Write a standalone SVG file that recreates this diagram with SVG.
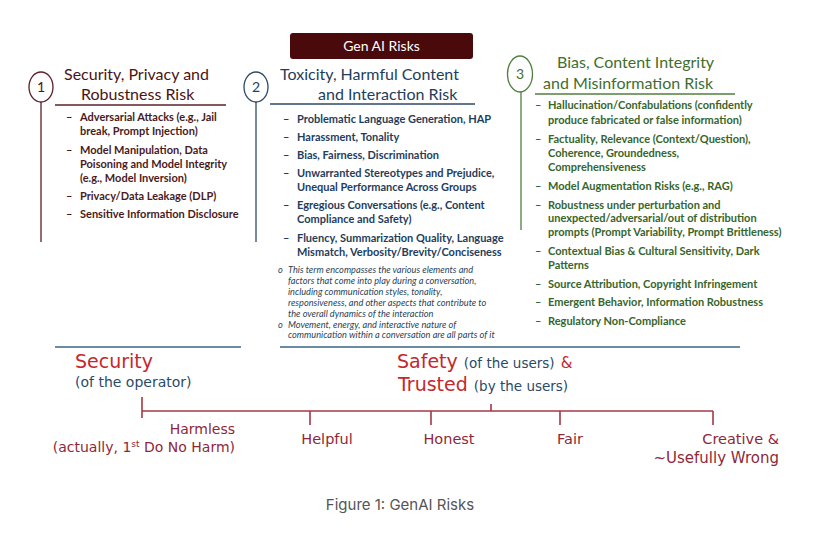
<svg xmlns="http://www.w3.org/2000/svg" width="830" height="542" viewBox="0 0 830 542">
<style>
.t{font-family:Lato,"Open Sans","Liberation Sans",sans-serif}
.h1{font-size:16px;fill:#4a1414}
.h2{font-size:16px;fill:#1f3d5c}
.h3{font-size:16px;fill:#3f6e30}
.b{font-size:11px;font-weight:700}
.c1{fill:#4a1a22}
.c2{fill:#1f3d5c}
.c3{fill:#37652b}
.n{font-size:9.2px;font-style:italic;fill:#2a3f58}
.cm{font-family:"DejaVu Sans","Liberation Sans",sans-serif}
.red{fill:#c4282d}
.mar{fill:#8e2838}
.blu{fill:#2a4a66}
.ln1{stroke:#5a2028;stroke-width:1.3;fill:none}
.ln2{stroke:#2e4a66;stroke-width:1.3;fill:none}
.ln3{stroke:#4f7f3f;stroke-width:1.3;fill:none}
.tl{stroke:#a23a48;stroke-width:1.6;fill:none}
.sep{stroke:#3a6484;stroke-width:1.3}
</style>
<rect width="830" height="542" fill="#ffffff"/>

<g id="title">
<rect x="290" y="33" width="183" height="26" rx="3" fill="#4a0a0c"/>
<text class="t" x="381.5" y="51" text-anchor="middle" font-size="14" fill="#ffffff">Gen AI Risks</text>
</g>

<g id="col1">
<ellipse class="ln1" cx="41" cy="87" rx="12" ry="15"/>
<text class="t" x="41" y="92" text-anchor="middle" font-size="14" fill="#4a1414">1</text>
<line class="ln1" x1="41" y1="102" x2="41" y2="242"/>
<text class="t h1" x="64" y="80">Security, Privacy and</text>
<text class="t h1" x="81" y="100">Robustness  Risk</text>
<line class="ln1" x1="55" y1="105" x2="226" y2="105"/>
<g class="t b c1">
<text x="66" y="121">–</text><text x="80" y="121">Adversarial Attacks (e.g., Jail</text>
<text x="80" y="135">break, Prompt Injection)</text>
<text x="66" y="154">–</text><text x="80" y="154">Model Manipulation, Data</text>
<text x="80" y="168">Poisoning and Model Integrity</text>
<text x="80" y="182">(e.g., Model Inversion)</text>
<text x="66" y="200">–</text><text x="80" y="200">Privacy/Data Leakage (DLP)</text>
<text x="66" y="218">–</text><text x="80" y="218">Sensitive Information Disclosure</text>
</g>
</g>

<g id="col2">
<ellipse class="ln2" cx="256" cy="87" rx="12" ry="15"/>
<text class="t" x="256" y="92" text-anchor="middle" font-size="14" fill="#1f3d5c">2</text>
<line class="ln2" x1="256" y1="102" x2="256" y2="242"/>
<text class="t h2" x="280" y="80">Toxicity, Harmful Content</text>
<text class="t h2" x="318" y="100">and Interaction Risk</text>
<line class="ln2" x1="270" y1="104" x2="475" y2="104"/>
<g class="t b c2">
<text x="283" y="123">–</text><text x="297" y="123">Problematic Language Generation, HAP</text>
<text x="283" y="141">–</text><text x="297" y="141">Harassment, Tonality</text>
<text x="283" y="159">–</text><text x="297" y="159">Bias, Fairness, Discrimination</text>
<text x="283" y="177">–</text><text x="297" y="177">Unwarranted Stereotypes and Prejudice,</text>
<text x="297" y="191">Unequal Performance Across Groups</text>
<text x="283" y="209">–</text><text x="297" y="209">Egregious Conversations (e.g., Content</text>
<text x="297" y="223">Compliance and Safety)</text>
<text x="283" y="242">–</text><text x="297" y="242">Fluency, Summarization Quality, Language</text>
<text x="297" y="256">Mismatch, Verbosity/Brevity/Conciseness</text>
</g>
<g class="t n">
<text x="278" y="273">o</text><text x="288" y="273">This term encompasses the various elements and</text>
<text x="288" y="284">factors that come into play during a conversation,</text>
<text x="288" y="295">including communication styles, tonality,</text>
<text x="288" y="306">responsiveness, and other aspects that contribute to</text>
<text x="288" y="317">the overall dynamics of the interaction</text>
<text x="278" y="328">o</text><text x="288" y="328">Movement, energy, and interactive nature of</text>
<text x="288" y="338">communication within a conversation are all parts of it</text>
</g>
</g>

<g id="col3">
<ellipse class="ln3" cx="520" cy="74" rx="12.5" ry="18"/>
<text class="t" x="520" y="79" text-anchor="middle" font-size="14" fill="#3f6e30">3</text>
<line class="ln3" x1="521" y1="92" x2="521" y2="230"/>
<text class="t h3" x="557" y="68">Bias, Content Integrity</text>
<text class="t h3" x="543" y="89">and Misinformation Risk</text>
<line class="ln3" x1="535" y1="94" x2="735" y2="94"/>
<g class="t b c3">
<text x="535" y="109">–</text><text x="548" y="109">Hallucination/Confabulations (confidently</text>
<text x="548" y="124">produce fabricated or false information)</text>
<text x="535" y="143">–</text><text x="548" y="143">Factuality, Relevance (Context/Question),</text>
<text x="548" y="157">Coherence, Groundedness,</text>
<text x="548" y="171">Comprehensiveness</text>
<text x="535" y="190">–</text><text x="548" y="190">Model Augmentation Risks (e.g., RAG)</text>
<text x="535" y="209">–</text><text x="548" y="209">Robustness under perturbation and</text>
<text x="548" y="222">unexpected/adversarial/out of distribution</text>
<text x="548" y="236">prompts (Prompt Variability, Prompt Brittleness)</text>
<text x="535" y="255">–</text><text x="548" y="255">Contextual Bias &amp; Cultural Sensitivity, Dark</text>
<text x="548" y="269">Patterns</text>
<text x="535" y="288">–</text><text x="548" y="288">Source Attribution, Copyright Infringement</text>
<text x="535" y="306">–</text><text x="548" y="306">Emergent Behavior, Information Robustness</text>
<text x="535" y="325">–</text><text x="548" y="325">Regulatory Non-Compliance</text>
</g>
</g>

<g id="separators">
<line class="sep" x1="55" y1="347" x2="241" y2="347"/>
<line class="sep" x1="280" y1="347" x2="740" y2="347"/>
</g>

<g id="security">
<text class="cm red" x="75" y="368" font-size="19">Security</text>
<text class="cm blu" x="75" y="387" font-size="14">(of the operator)</text>
</g>
<g id="safety">
<text class="cm red" x="397" y="368" font-size="19">Safety <tspan class="blu" font-size="13.5">(of the users)</tspan> <tspan font-size="15">&amp;</tspan></text>
<text class="cm red" x="398" y="391" font-size="19">Trusted <tspan class="blu" font-size="13.5">(by the users)</tspan></text>
</g>

<g id="connectors">
<path class="tl" d="M142 411 H713 M142 397 V418 M310 411 V425 M431 411 V425 M491 404 V411 M560 411 V425 M713 411 V425"/>
</g>

<g id="labels" class="cm mar">
<text x="235" y="434" text-anchor="end" font-size="14">Harmless</text>
<text x="235" y="452" text-anchor="end" font-size="14">(actually, 1<tspan font-size="9" dy="-5">st</tspan><tspan dy="5"> Do No Harm)</tspan></text>
<text x="327" y="444" text-anchor="middle" font-size="14.5">Helpful</text>
<text x="449" y="444" text-anchor="middle" font-size="14.5">Honest</text>
<text x="570" y="444" text-anchor="middle" font-size="14.5">Fair</text>
<text x="779" y="444" text-anchor="end" font-size="14.5">Creative &amp;</text>
<text x="779" y="463" text-anchor="end" font-size="15">~Usefully Wrong</text>
</g>

<text x="400" y="510" text-anchor="middle" font-family="Inter,Roboto,sans-serif" font-size="15" fill="#555555">Figure 1: GenAI Risks</text>
</svg>
